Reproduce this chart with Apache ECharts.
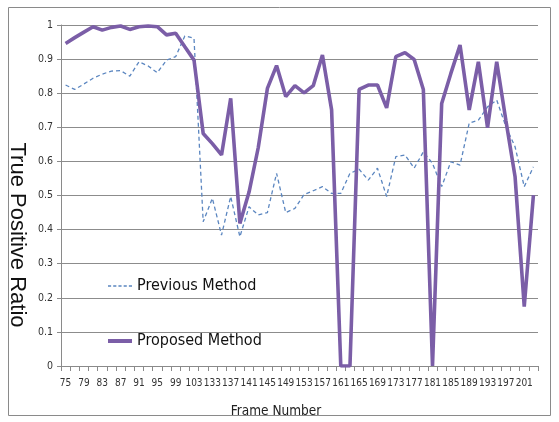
<!DOCTYPE html>
<html>
<head>
<meta charset="utf-8">
<script src="https://cdn.jsdelivr.net/npm/echarts@6/dist/echarts.min.js"></script>
<style>
  html, body { margin: 0; padding: 0; background: #fff; }
  #chart { width: 559px; height: 422px; }
</style>
</head>
<body>
<div id="chart"></div>
<script>
const frames = ['75','77','79','81','83','85','87','89','91','93','95','97','99','101','103','131',
  '133','135','137','139','141','143','145','147','149','151','153','155','157','159','161','163',
  '165','167','169','171','173','175','177','179','181','183','185','187','189','191','193','195',
  '197','199','201','203'];

const previousMethod = [0.824,0.811,0.827,0.844,0.856,0.865,0.866,0.850,0.892,0.880,0.860,0.897,0.907,0.968,0.961,0.423,
  0.492,0.384,0.497,0.379,0.467,0.443,0.450,0.565,0.450,0.462,0.503,0.514,0.526,0.506,0.506,0.565,
  0.577,0.545,0.580,0.497,0.614,0.619,0.580,0.628,0.594,0.526,0.599,0.589,0.712,0.721,0.760,0.780,
  0.702,0.643,0.526,0.584];

const proposedMethod = [0.946,0.963,0.979,0.995,0.985,0.993,0.997,0.987,0.995,0.997,0.995,0.971,0.976,0.936,0.897,0.682,
  0.652,0.619,0.785,0.418,0.510,0.640,0.814,0.881,0.790,0.822,0.801,0.822,0.912,0.751,0,0,
  0.811,0.824,0.824,0.757,0.907,0.919,0.899,0.811,0,0.770,0.858,0.941,0.751,0.892,0.699,0.892,
  0.720,0.555,0.174,0.501];

const yTicks = [0, 0.1, 0.2, 0.3, 0.4, 0.5, 0.6, 0.7, 0.8, 0.9, 1];

const narrow = "'Liberation Sans Narrow', 'DejaVu Sans Condensed', 'Roboto', sans-serif";

const chart = echarts.init(document.getElementById('chart'), null, { renderer: 'canvas' });
chart.setOption({
  animation: false,
  backgroundColor: '#ffffff',
  grid: { left: 61, right: 21, top: 25, bottom: 56, containLabel: false },
  legend: {
    orient: 'vertical',
    left: 108,
    top: 278,
    padding: 0,
    itemGap: 39,
    itemWidth: 24,
    itemHeight: 14,
    textStyle: { fontFamily: narrow, fontSize: 16, color: '#111' },
    data: [
      { name: 'Previous Method', icon: 'path://M0,6h3v1.6h-3z M5,6h3v1.6h-3z M10,6h3v1.6h-3z M15,6h3v1.6h-3z M20,6h3v1.6h-3z', itemStyle: { color: '#5b86c0' } },
      { name: 'Proposed Method', icon: 'path://M0,5h24v4h-24z', itemStyle: { color: '#7b5ea7' } }
    ]
  },
  xAxis: {
    type: 'category',
    data: frames,
    boundaryGap: true,
    axisLine: { lineStyle: { color: '#8a8a8a', width: 1 } },
    axisTick: { show: true, interval: 0, length: 5, lineStyle: { color: '#8a8a8a' } },
    axisLabel: { interval: 1, fontFamily: narrow, fontSize: 10, color: '#333', margin: 12, hideOverlap: false }
  },
  yAxis: {
    type: 'value',
    min: 0, max: 1, interval: 0.1,
    axisLine: { show: true, lineStyle: { color: '#8a8a8a' } },
    axisTick: { show: true, length: 4, lineStyle: { color: '#8a8a8a' } },
    axisLabel: {
      fontFamily: narrow, fontSize: 10.5, color: '#333', margin: 8,
      formatter: function (v) { const t = yTicks.find(x => Math.abs(x - v) < 1e-6); return t === undefined ? '' : String(t); }
    },
    splitLine: { show: true, lineStyle: { color: '#8c8c8c', width: 1 } }
  },
  series: [
    {
      name: 'Previous Method',
      type: 'line',
      data: previousMethod,
      symbol: 'none',
      lineStyle: { color: '#5b86c0', width: 1.3, type: [4, 3] },
      itemStyle: { color: '#5b86c0' },
      z: 2
    },
    {
      name: 'Proposed Method',
      type: 'line',
      data: proposedMethod,
      symbol: 'none',
      lineStyle: { color: '#7b5ea7', width: 3.6 },
      itemStyle: { color: '#7b5ea7' },
      z: 3
    }
  ],
  graphic: [
    {
      type: 'rect',
      shape: { x: 8.5, y: 7.5, width: 542, height: 408 },
      style: { fill: 'none', stroke: '#8a8a8a', lineWidth: 1 },
      silent: true, z: -10
    },
    {
      type: 'text',
      x: 276, y: 411,
      style: { text: 'Frame Number', font: "13.5px " + narrow, fill: '#222', align: 'center', verticalAlign: 'middle' }
    },
    {
      type: 'text',
      x: 17, y: 235,
      rotation: -Math.PI / 2,
      style: { text: 'True Positive Ratio', font: "22px 'Liberation Sans', Arial, sans-serif", fill: '#111', align: 'center', verticalAlign: 'middle' }
    }
  ]
});
</script>
</body>
</html>
